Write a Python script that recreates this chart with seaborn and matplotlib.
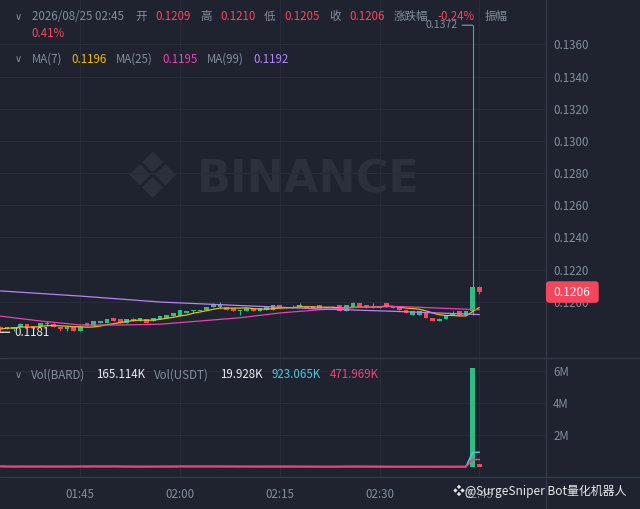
import numpy as np
import pandas as pd
import matplotlib
matplotlib.use('Agg')
import matplotlib.pyplot as plt
from matplotlib.patches import FancyBboxPatch
from matplotlib.lines import Line2D
import seaborn as sns

# _________________________________________________
# ДАННЫЕ: свечи 1m BARD/USDT, 01:33 - 02:45

opens = [0.1184, 0.1183, 0.1183, 0.1184, 0.1186, 0.1185, 0.1184, 0.1186, 0.1186, 0.1184,
         0.1183, 0.1184, 0.1182, 0.1187, 0.1185, 0.1187, 0.1187, 0.1190, 0.1189, 0.1187,
         0.1188, 0.1188, 0.1189, 0.1188, 0.1189, 0.1190, 0.1191, 0.1191, 0.1193, 0.1194,
         0.1194, 0.1195, 0.1197, 0.1197, 0.1197, 0.1196, 0.1194, 0.1194, 0.1196, 0.1194,
         0.1195, 0.1195, 0.1198, 0.1197, 0.1196, 0.1197, 0.1197, 0.1196, 0.1198, 0.1197,
         0.1197, 0.1198, 0.1194, 0.1197, 0.1199, 0.1198, 0.1196, 0.1196, 0.1199, 0.1196,
         0.1197, 0.1195, 0.1192, 0.1192, 0.1193, 0.1190, 0.1188, 0.1189, 0.1192, 0.1194,
         0.1192, 0.1194, 0.1209]
highs = [0.1185, 0.1184, 0.1184, 0.1187, 0.1186, 0.1185, 0.1187, 0.1188, 0.1187, 0.1184,
         0.1184, 0.1185, 0.1184, 0.1187, 0.1188, 0.1188, 0.1189, 0.1190, 0.1189, 0.1189,
         0.1190, 0.1190, 0.1189, 0.1190, 0.1191, 0.1192, 0.1193, 0.1195, 0.1194, 0.1195,
         0.1195, 0.1197, 0.1199, 0.1200, 0.1197, 0.1196, 0.1195, 0.1196, 0.1196, 0.1196,
         0.1197, 0.1198, 0.1198, 0.1197, 0.1198, 0.1199, 0.1197, 0.1197, 0.1198, 0.1197,
         0.1197, 0.1198, 0.1198, 0.1200, 0.1199, 0.1198, 0.1199, 0.1197, 0.1199, 0.1197,
         0.1197, 0.1195, 0.1194, 0.1194, 0.1193, 0.1190, 0.1190, 0.1192, 0.1194, 0.1194,
         0.1194, 0.1372, 0.1210]
lows = [0.1181, 0.1183, 0.1182, 0.1184, 0.1184, 0.1183, 0.1184, 0.1185, 0.1184, 0.1182,
        0.1182, 0.1182, 0.1182, 0.1185, 0.1185, 0.1187, 0.1187, 0.1188, 0.1187, 0.1187,
        0.1188, 0.1188, 0.1187, 0.1188, 0.1189, 0.1190, 0.1191, 0.1191, 0.1193, 0.1193,
        0.1194, 0.1195, 0.1197, 0.1196, 0.1195, 0.1194, 0.1192, 0.1194, 0.1194, 0.1194,
        0.1195, 0.1195, 0.1196, 0.1196, 0.1196, 0.1197, 0.1196, 0.1196, 0.1196, 0.1196,
        0.1196, 0.1194, 0.1194, 0.1197, 0.1197, 0.1196, 0.1196, 0.1196, 0.1197, 0.1196,
        0.1195, 0.1193, 0.1192, 0.1192, 0.1190, 0.1188, 0.1188, 0.1189, 0.1192, 0.1192,
        0.1192, 0.1192, 0.1205]
closes = [0.1183, 0.1184, 0.1184, 0.1186, 0.1184, 0.1184, 0.1187, 0.1187, 0.1184, 0.1183,
          0.1184, 0.1182, 0.1184, 0.1185, 0.1188, 0.1188, 0.1189, 0.1188, 0.1187, 0.1189,
          0.1189, 0.1190, 0.1187, 0.1190, 0.1191, 0.1192, 0.1193, 0.1195, 0.1194, 0.1195,
          0.1195, 0.1197, 0.1198, 0.1198, 0.1195, 0.1194, 0.1195, 0.1196, 0.1194, 0.1196,
          0.1197, 0.1198, 0.1196, 0.1196, 0.1197, 0.1198, 0.1196, 0.1197, 0.1196, 0.1196,
          0.1196, 0.1194, 0.1198, 0.1199, 0.1197, 0.1196, 0.1197, 0.1197, 0.1197, 0.1197,
          0.1195, 0.1193, 0.1194, 0.1194, 0.1190, 0.1188, 0.1189, 0.1192, 0.1193, 0.1192,
          0.1194, 0.1209, 0.1206]
volumes = [38200, 21400, 17600, 45300, 29800, 26100, 41700, 15300, 33600, 27400,
           12800, 52600, 47900, 31200, 44800, 14700, 23900, 36500, 28300, 22100,
           9800, 25600, 30400, 27900, 35200, 39800, 33100, 58400, 31700, 26500,
           19300, 37600, 42900, 21800, 34500, 29700, 16400, 24300, 30900, 22600,
           27100, 41300, 33800, 24700, 13600, 20900, 26300, 17800, 28600, 19700,
           23400, 39600, 36800, 30200, 25900, 21300, 14900, 11800, 27600, 18200,
           22600, 25300, 19800, 21400, 16900, 21911, 21500, 26800, 19400, 24100,
           24541, 6180000, 165114]

# MA(25) и MA(99) (история до окна не видна)
ma25_idx = [0, 6, 12, 18, 24, 30, 36, 42, 48, 54, 60, 66, 72]
ma25_val = [0.1191, 0.1188, 0.11855, 0.11855, 0.1186, 0.1188, 0.1190, 0.1193,
            0.1195, 0.11965, 0.1197, 0.1196, 0.1195]
ma99_idx = [0, 12, 24, 36, 48, 60, 72]
ma99_val = [0.12067, 0.12035, 0.11998, 0.11976, 0.11955, 0.11939, 0.11920]

tick_idx = [12, 27, 42, 57, 72]
tick_labels = ['01:45', '02:00', '02:15', '02:30', '02:45']
price_ticks = [0.1200, 0.1220, 0.1240, 0.1260, 0.1280, 0.1300, 0.1320, 0.1340, 0.1360]
vol_ticks = [2e6, 4e6, 6e6]
vol_tick_labels = ['2M', '4M', '6M']

# _________________________________________________
# ЦВЕТА

BG = '#1f2330'
GRID = '#282d39'
SEP = '#323845'
GRAY = '#848e9c'
LIGHT = '#eaecef'
UP = '#2ebd85'
DOWN = '#f6465d'
C_MA7 = '#f0b90b'
C_MA25 = '#eb40b5'
C_MA99 = '#b385f8'
C_VMA1 = '#4fc6d6'
C_VMA2 = '#e9477a'
MARK = '#2b303c'

sns.set_style('dark', rc={'axes.facecolor': BG, 'figure.facecolor': BG})
plt.rcParams['font.family'] = ['Noto Sans CJK SC', 'DejaVu Sans']
FS = 8.3

W, H = 640, 509


def fx(px):
    return px / W


def fy(py):
    return 1 - py / H


idx = np.arange(len(closes))
o = np.array(opens)
c = np.array(closes)
colors = [UP if cc >= oo else DOWN for oo, cc in zip(o, c)]
ma7 = pd.Series(closes).rolling(7, min_periods=1).mean()
vma7 = pd.Series(volumes).rolling(7, min_periods=1).mean()
vma14 = pd.Series(volumes).rolling(14, min_periods=1).mean()

fig = plt.figure(figsize=(6.4, 5.09), dpi=100)
ax = fig.add_axes([0, fy(357.7), fx(545), 357.7 / H])
axv = fig.add_axes([0, fy(476.7), fx(545), (476.7 - 357.7) / H])

for a in (ax, axv):
    a.set_facecolor(BG)
    a.set_xlim(-0.07, 81.88)
    for s in a.spines.values():
        s.set_visible(False)
    a.set_xticks(tick_idx)
    a.grid(True, color=GRID, lw=0.8)
    a.set_axisbelow(True)
    a.yaxis.tick_right()
    a.tick_params(axis='both', length=0, labelsize=FS, labelcolor=GRAY)
    a.tick_params(axis='y', pad=5.8)

# свечи
ax.vlines(idx, lows, highs, colors=colors, lw=0.8, zorder=2)
body = np.maximum(np.abs(c - o), 0.00004)
ax.bar(idx, body, bottom=np.minimum(o, c), width=0.7, color=colors,
       edgecolor='none', linewidth=0, zorder=3)

sns.lineplot(x=idx, y=ma7, ax=ax, color=C_MA7, lw=0.9, zorder=4)
sns.lineplot(x=ma25_idx, y=ma25_val, ax=ax, color=C_MA25, lw=0.9, zorder=4)
sns.lineplot(x=ma99_idx, y=ma99_val, ax=ax, color=C_MA99, lw=0.9, zorder=4)

ax.set_ylim(0.116516, 0.138768)
ax.set_yticks(price_ticks)
ax.set_yticklabels([f'{p:.4f}' for p in price_ticks])
ax.set_xticklabels([])
ax.set_xlabel('')
ax.set_ylabel('')

# max / min метки
imax = int(np.argmax(highs))
imin = int(np.argmin(lows))
ax.annotate(f'{highs[imax]:.4f}', xy=(imax, highs[imax]), xytext=(-11, 0),
            textcoords='offset points', ha='right', va='center', color=GRAY, fontsize=7.6,
            arrowprops=dict(arrowstyle='-', color=GRAY, lw=0.9, shrinkA=1, shrinkB=0))
ax.annotate(f'{lows[imin]:.4f}', xy=(imin, lows[imin]), xytext=(10, 0),
            textcoords='offset points', ha='left', va='center', color=LIGHT, fontsize=FS,
            arrowprops=dict(arrowstyle='-', color=LIGHT, lw=0.9, shrinkA=1, shrinkB=0))

# водяной знак
ax.text(308 / 545, 1 - 180 / 357.7, 'BINANCE', transform=ax.transAxes, ha='center', va='center',
        fontsize=32, fontweight='bold', color=MARK, family='DejaVu Sans', zorder=0)
ax.text(152 / 545, 1 - 180 / 357.7, '❖', transform=ax.transAxes, ha='center', va='center',
        fontsize=46, color=MARK, family='DejaVu Sans', zorder=0)

# объём
axv.bar(idx, volumes, width=0.7, color=colors, edgecolor='none', linewidth=0, zorder=3)
sns.lineplot(x=idx, y=vma7, ax=axv, color=C_VMA1, lw=1.2, zorder=4)
sns.lineplot(x=idx, y=vma14, ax=axv, color=C_VMA2, lw=1.2, zorder=4)
axv.set_ylim(-0.604e6, 6.81e6)
axv.set_yticks(vol_ticks)
axv.set_yticklabels(vol_tick_labels)
axv.set_xticklabels(tick_labels)
axv.tick_params(axis='x', pad=8)
axv.set_xlabel('')
axv.set_ylabel('')

# разделители
fig.add_artist(Line2D([0, 1], [fy(357.7)] * 2, transform=fig.transFigure, color=SEP, lw=1))
fig.add_artist(Line2D([0, 1], [fy(476.7)] * 2, transform=fig.transFigure, color=SEP, lw=1))
fig.add_artist(Line2D([fx(545.5)] * 2, [0, 1], transform=fig.transFigure, color=SEP, lw=1))

# метка текущей цены
yd = ax.transData.transform((0, closes[-1]))[1]
box = FancyBboxPatch((fx(546), (yd - 10.8) / H), 52.7 / W, 21.6 / H,
                     boxstyle='round,pad=0,rounding_size=0.006', transform=fig.transFigure,
                     fc=DOWN, ec='none', zorder=5)
fig.add_artist(box)
fig.text(fx(572.3), yd / H, f'{closes[-1]:.4f}', ha='center', va='center',
         color='white', fontsize=FS + 0.4, zorder=6)

# заголовки
def put(items, y):
    for x, t, col in items:
        fig.text(fx(x), fy(y), t, ha='left', va='center', color=col, fontsize=FS)


for y in (16.7, 59.3, 375):
    fig.text(fx(18), fy(y), '∨', ha='center', va='center', color=GRAY, fontsize=7,
             family='DejaVu Sans')

put([(31.5, '2026/08/25 02:45', GRAY), (135, '开', GRAY), (155, f'{opens[-1]:.4f}', DOWN),
     (200, '高', GRAY), (220, f'{highs[-1]:.4f}', DOWN), (264, '低', GRAY),
     (284, f'{lows[-1]:.4f}', DOWN), (329, '收', GRAY), (349, f'{closes[-1]:.4f}', DOWN),
     (394, '涨跌幅', GRAY), (437, '-0.24%', DOWN), (485, '振幅', GRAY)], 16.7)
put([(31.5, '0.41%', DOWN)], 33.3)
put([(31.5, 'MA(7)', GRAY), (71, f'{ma7.iloc[-1]:.4f}', C_MA7),
     (116, 'MA(25)', GRAY), (162, f'{ma25_val[-1]:.4f}', C_MA25),
     (207, 'MA(99)', GRAY), (253, f'{ma99_val[-1]:.4f}', C_MA99)], 59.3)
put([(31, 'Vol(BARD)', GRAY), (96, f'{volumes[-1] / 1000:.3f}K', LIGHT),
     (154, 'Vol(USDT)', GRAY), (220, '19.928K', LIGHT),
     (271, f'{vma7.iloc[-1] / 1000:.3f}K', C_VMA1), (330, f'{vma14.iloc[-1] / 1000:.3f}K', C_VMA2)], 375)

fig.text(fx(453), fy(491.7), '❖@SurgeSniper Bot量化机器人', ha='left', va='center',
         color='#e6e8ea', fontsize=8.6, family=['Noto Sans CJK SC', 'DejaVu Sans'], zorder=6)

fig.savefig('out.png', dpi=100, facecolor=BG)
